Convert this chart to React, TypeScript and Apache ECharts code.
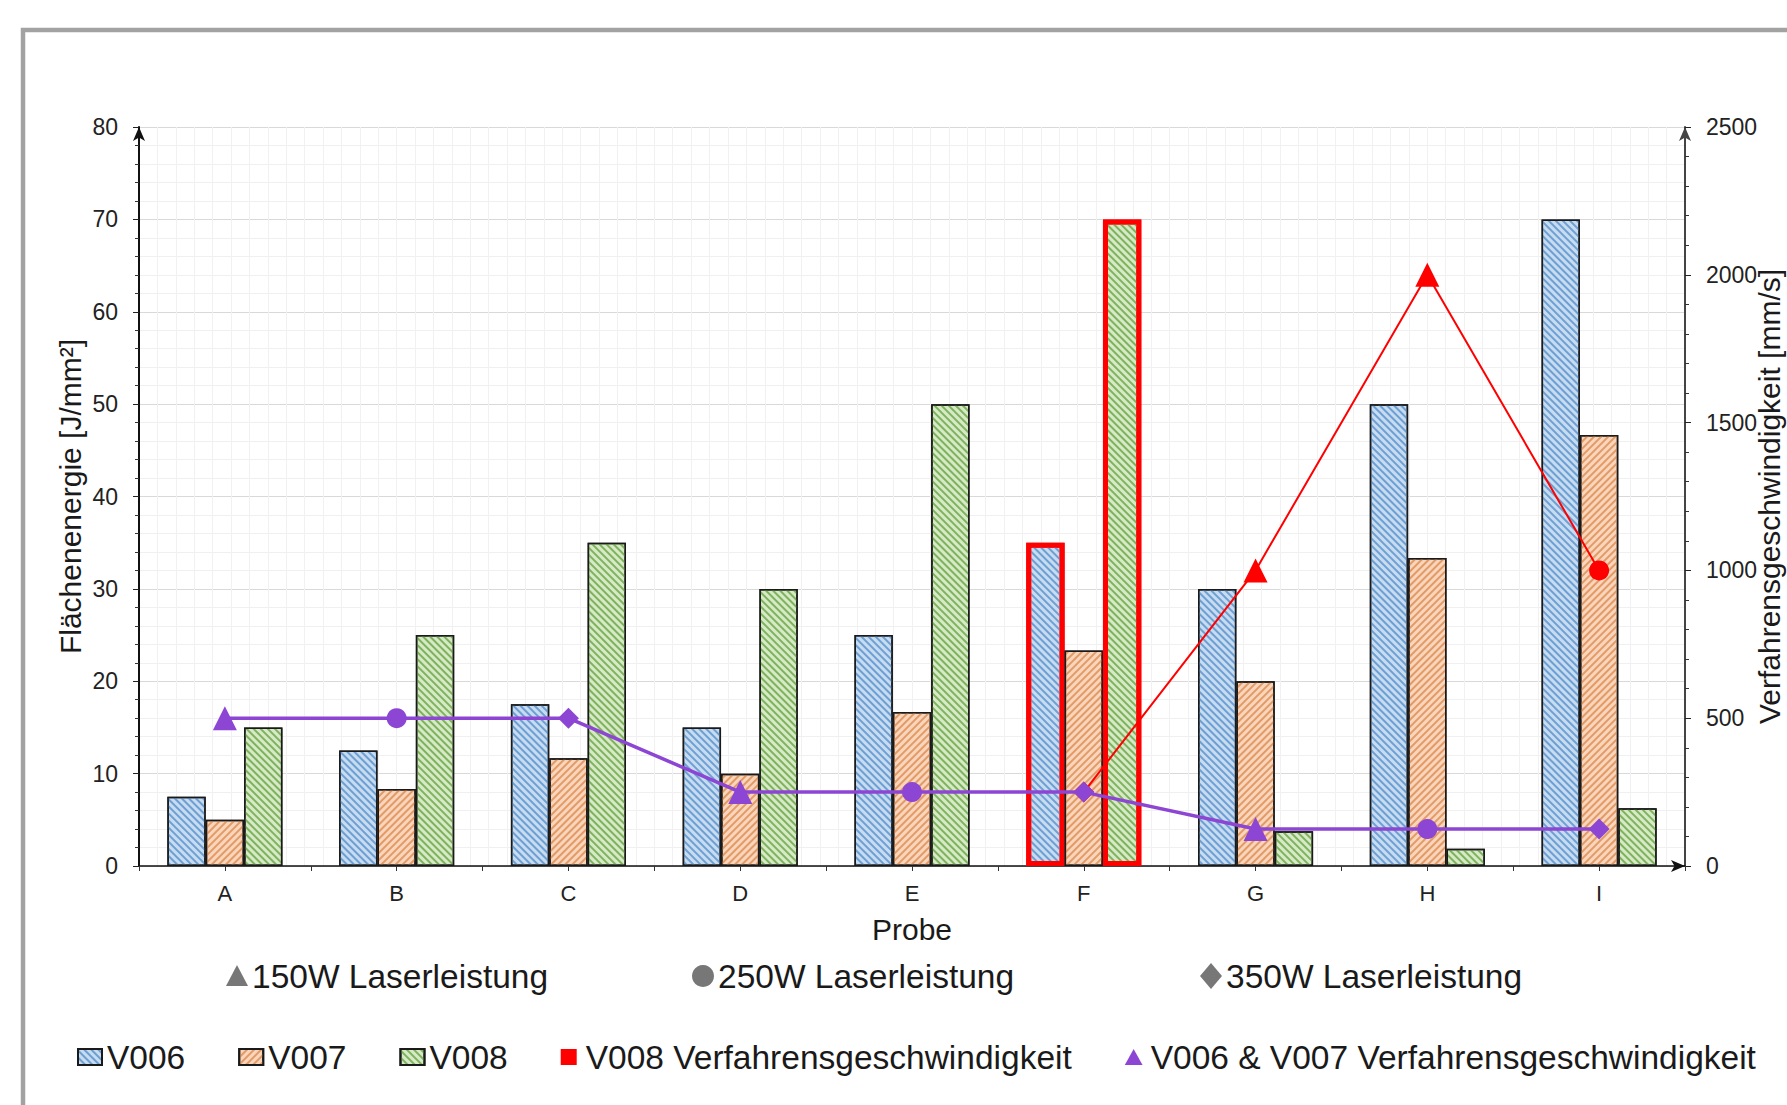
import React, { useEffect, useRef } from "react";
import * as echarts from "echarts";

const categories = ["A", "B", "C", "D", "E", "F", "G", "H", "I"];
const v006 = [7.5, 12.5, 17.5, 15, 25, 35, 30, 50, 70];
const v007 = [5, 8.33, 11.67, 10, 16.67, 23.33, 20, 33.33, 46.67];
const v008 = [15, 25, 35, 30, 50, 70, 3.75, 1.875, 6.25];
const speedV006V007 = [500, 500, 500, 250, 250, 250, 125, 125, 125];
const speedV008: (number | null)[] = [null, null, null, null, null, 250, 1000, 2000, 1000];
const powerSymbolsV006V007 = ["triangle", "circle", "diamond", "triangle", "circle", "diamond", "triangle", "circle", "diamond"];
const powerSymbolsV008 = ["none", "none", "none", "none", "none", "diamond", "triangle", "triangle", "circle"];
const highlightV006 = ["F"];
const highlightV008 = ["F"];
const powerLegend = [
  { shape: "triangle", label: "150W Laserleistung" },
  { shape: "circle", label: "250W Laserleistung" },
  { shape: "diamond", label: "350W Laserleistung" },
];
const leftTicks = { min: 0, max: 80, interval: 10 };
const rightTicks = { min: 0, max: 2500, interval: 500 };

const FONT = '"Liberation Sans", Arial, sans-serif';

function barData(values: number[], highlight: string[]) {
  return values.map((v, i) =>
    highlight.includes(categories[i])
      ? { value: v, itemStyle: { borderColor: "#ff0000", borderWidth: 5 } }
      : v
  );
}

function symbolSizeFor(sym: string) {
  return sym === "circle" ? 20 : sym === "diamond" ? 21 : 24;
}

export default function App() {
  const ref = useRef<HTMLDivElement>(null);
  useEffect(() => {
    if (!ref.current) return;
    const chart = echarts.init(ref.current, null, { renderer: "svg" });

    const hatch = (color: string, rot: number) => ({
      symbol: "rect",
      color,
      dashArrayX: [1, 0],
      dashArrayY: [1.6, 3],
      rotation: rot,
    });

    const legendRowY = 976;
    const legendXs = [237, 703, 1211];
    const graphic: any[] = [
      {
        type: "rect",
        shape: { x: 23, y: 30, width: 1800, height: 1120 },
        style: { fill: "none", stroke: "#a2a2a2", lineWidth: 4.5 },
        silent: true,
      },
    ];
    powerLegend.forEach((p, i) => {
      const cx = legendXs[i];
      const cy = legendRowY;
      if (p.shape === "triangle") {
        graphic.push({ type: "polygon", shape: { points: [[cx - 11, cy + 10], [cx + 11, cy + 10], [cx, cy - 11]] }, style: { fill: "#777" } });
      } else if (p.shape === "circle") {
        graphic.push({ type: "circle", shape: { cx, cy, r: 11 }, style: { fill: "#777" } });
      } else {
        graphic.push({ type: "polygon", shape: { points: [[cx - 11, cy], [cx, cy - 13], [cx + 11, cy], [cx, cy + 13]] }, style: { fill: "#777" } });
      }
      graphic.push({
        type: "text",
        x: cx + 15,
        y: cy,
        style: { text: p.label, fontSize: 33.5, fontFamily: FONT, fill: "#1a1a1a", verticalAlign: "middle", align: "left" },
      });
    });

    const option: any = {
      animation: false,
      backgroundColor: "#ffffff",
      textStyle: { fontFamily: FONT },
      grid: { left: 139, right: 102, top: 127, bottom: 239, containLabel: false, outerBoundsMode: "none" },
      graphic,
      legend: {
        left: 77,
        top: 1040,
        padding: 0,
        itemWidth: 24,
        itemHeight: 16,
        itemGap: 53,
        textStyle: { fontSize: 33.5, color: "#1a1a1a", fontFamily: FONT },
        data: [
          { name: "V006", icon: "rect" },
          { name: "V007", icon: "rect" },
          { name: "V008", icon: "rect" },
          { name: "V008 Verfahrensgeschwindigkeit", icon: "path://M0,0L10,0L10,10L0,10Z" },
          { name: "V006 & V007 Verfahrensgeschwindigkeit", icon: "path://M5,0L10,9L0,9Z" },
        ],
      },
      xAxis: [
        {
          type: "category",
          data: categories,
          name: "Probe",
          nameLocation: "middle",
          nameGap: 48,
          nameMoveOverlap: false,
          nameTextStyle: { fontSize: 30, color: "#1a1a1a" },
          axisLine: { onZero: false, symbol: ["none", "arrow"], symbolSize: [9, 14], lineStyle: { color: "#111", width: 1.5 } },
          axisTick: { show: true, length: 5, lineStyle: { color: "#333" } },
          axisLabel: { fontSize: 22, color: "#222", margin: 16 },
          splitLine: { show: false },
        },
        {
          type: "category",
          data: categories,
          position: "bottom",
          axisLine: { show: false, onZero: false },
          axisTick: { show: true, alignWithLabel: true, length: 5, lineStyle: { color: "#333" } },
          axisLabel: { show: false },
          splitLine: { show: false },
        },
        {
          type: "value",
          min: 0,
          max: 84,
          interval: 1,
          position: "bottom",
          axisLine: { show: false, onZero: false },
          axisTick: { show: false },
          axisLabel: { show: false },
          splitLine: { show: true, lineStyle: { color: "#f1f1f1", width: 1 } },
        },
      ],
      yAxis: [
        {
          type: "value",
          ...leftTicks,
          name: "Flächenenergie [J/mm²]",
          nameLocation: "middle",
          nameGap: 54,
          nameMoveOverlap: false,
          nameTextStyle: { fontSize: 30, color: "#1a1a1a" },
          axisLine: { show: true, onZero: false, symbol: ["none", "arrow"], symbolSize: [9, 14], lineStyle: { color: "#111", width: 2 } },
          axisTick: { show: true, length: 6, lineStyle: { color: "#222" } },
          minorTick: { show: true, splitNumber: 5, length: 4, lineStyle: { color: "#333" } },
          axisLabel: { fontSize: 23, color: "#222", margin: 21 },
          splitLine: { show: true, lineStyle: { color: "#d9d9d9", width: 1.2 } },
          minorSplitLine: { show: true, lineStyle: { color: "#f0f0f0", width: 1 } },
        },
        {
          type: "value",
          ...rightTicks,
          position: "right",
          name: "Verfahrensgeschwindigkeit [mm/s]",
          nameLocation: "middle",
          nameGap: 69,
          nameMoveOverlap: false,
          nameTextStyle: { fontSize: 30, color: "#1a1a1a" },
          axisLine: { show: true, onZero: false, symbol: ["none", "arrow"], symbolSize: [9, 14], lineStyle: { color: "#444", width: 2 } },
          axisTick: { show: true, length: 6, lineStyle: { color: "#222" } },
          minorTick: { show: true, splitNumber: 5, length: 4, lineStyle: { color: "#333" } },
          axisLabel: { fontSize: 23, color: "#222", margin: 21, formatter: (v: number) => String(v) },
          splitLine: { show: false },
        },
      ],
      series: [
        {
          name: "V006",
          type: "bar",
          xAxisIndex: 0,
          yAxisIndex: 0,
          data: barData(v006, highlightV006),
          barGap: "0%",
          barCategoryGap: "33%",
          itemStyle: { color: "#c7dcf1", borderColor: "#1a1a1a", borderWidth: 1.5, decal: hatch("#6d9fd2", Math.PI / 4) },
          z: 2,
        },
        {
          name: "V007",
          type: "bar",
          xAxisIndex: 0,
          yAxisIndex: 0,
          data: v007,
          barGap: "0%",
          barCategoryGap: "33%",
          itemStyle: { color: "#f9d6bb", borderColor: "#1a1a1a", borderWidth: 1.5, decal: hatch("#e29a67", -Math.PI / 4) },
          z: 2,
        },
        {
          name: "V008",
          type: "bar",
          xAxisIndex: 0,
          yAxisIndex: 0,
          data: barData(v008, highlightV008),
          barGap: "0%",
          barCategoryGap: "33%",
          itemStyle: { color: "#d6eac6", borderColor: "#1a1a1a", borderWidth: 1.5, decal: hatch("#7fb25e", Math.PI / 4) },
          z: 2,
        },
        {
          name: "V008 Verfahrensgeschwindigkeit",
          type: "line",
          xAxisIndex: 0,
          yAxisIndex: 1,
          data: speedV008.map((v, i) => ({ value: v, symbol: powerSymbolsV008[i], symbolSize: symbolSizeFor(powerSymbolsV008[i]) })),
          lineStyle: { color: "#ff0000", width: 2 },
          itemStyle: { color: "#ff0000" },
          connectNulls: false,
          z: 3,
        },
        {
          name: "V006 & V007 Verfahrensgeschwindigkeit",
          type: "line",
          xAxisIndex: 0,
          yAxisIndex: 1,
          data: speedV006V007.map((v, i) => ({ value: v, symbol: powerSymbolsV006V007[i], symbolSize: symbolSizeFor(powerSymbolsV006V007[i]) })),
          lineStyle: { color: "#8d45d4", width: 3.5 },
          itemStyle: { color: "#8d45d4" },
          z: 4,
        },
      ],
    };
    chart.setOption(option);
    return () => chart.dispose();
  }, []);

  return (
    <div
      ref={ref}
      style={{ position: "absolute", left: 0, top: 0, width: 1787, height: 1105 }}
    />
  );
}
